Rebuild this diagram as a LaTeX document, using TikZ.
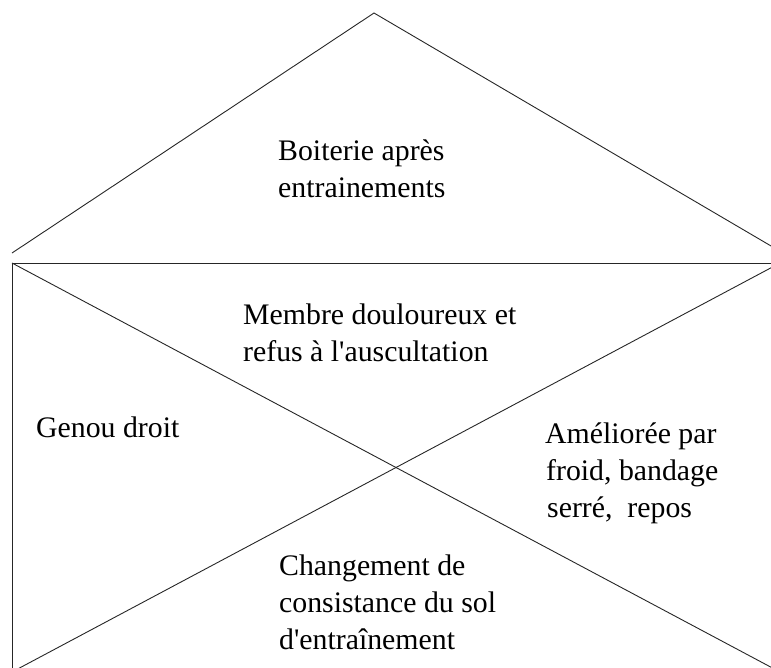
\documentclass[tikz,border=0pt]{standalone}
\usepackage{fontspec}
\setmainfont{Liberation Serif}[Ligatures=TeXOff]
\begin{document}
\begin{tikzpicture}[x=1pt,y=-1pt,
  edge/.style={draw=black!85,line width=0.9pt},
  lbl/.style={anchor=base west,inner sep=0pt,font=\fontsize{29.8}{37}\selectfont}]
\useasboundingbox (0,0) rectangle (771,667);
\clip (0,0) rectangle (771,667);
% corners
\coordinate (tl) at (12,253);
\coordinate (apex) at (374,13);
\coordinate (tr) at (783,253);
\coordinate (rA) at (12,263);
\coordinate (rB) at (780,263);
\coordinate (rC) at (780,672);
\coordinate (rD) at (12,672);
% roof
\draw[edge] (tl) -- (apex) -- (tr);
% box
\draw[edge] (rD) -- (rA) -- (rB);
\draw[edge] (rA) -- (rC);
\draw[edge] (rB) -- (rD);
% texts
\node[lbl] (t1a) at (278,160) {Boiterie après};
\node[lbl] (t1b) at (278,197) {entrainements};
\node[lbl] (t2a) at (243,324) {Membre douloureux et};
\node[lbl] (t2b) at (243,361) {refus à l'auscultation};
\node[lbl] (t3) at (36,437) {Genou droit};
\node[lbl] (t4a) at (545,443) {Améliorée par};
\node[lbl] (t4b) at (546,480) {froid, bandage};
\node[lbl] (t4c) at (547,517) {serré,\ \ repos};
\node[lbl] (t5a) at (279,575) {Changement de};
\node[lbl] (t5b) at (279,612) {consistance du sol};
\node[lbl] (t5c) at (279,649) {d'entraînement};
\end{tikzpicture}
\end{document}
